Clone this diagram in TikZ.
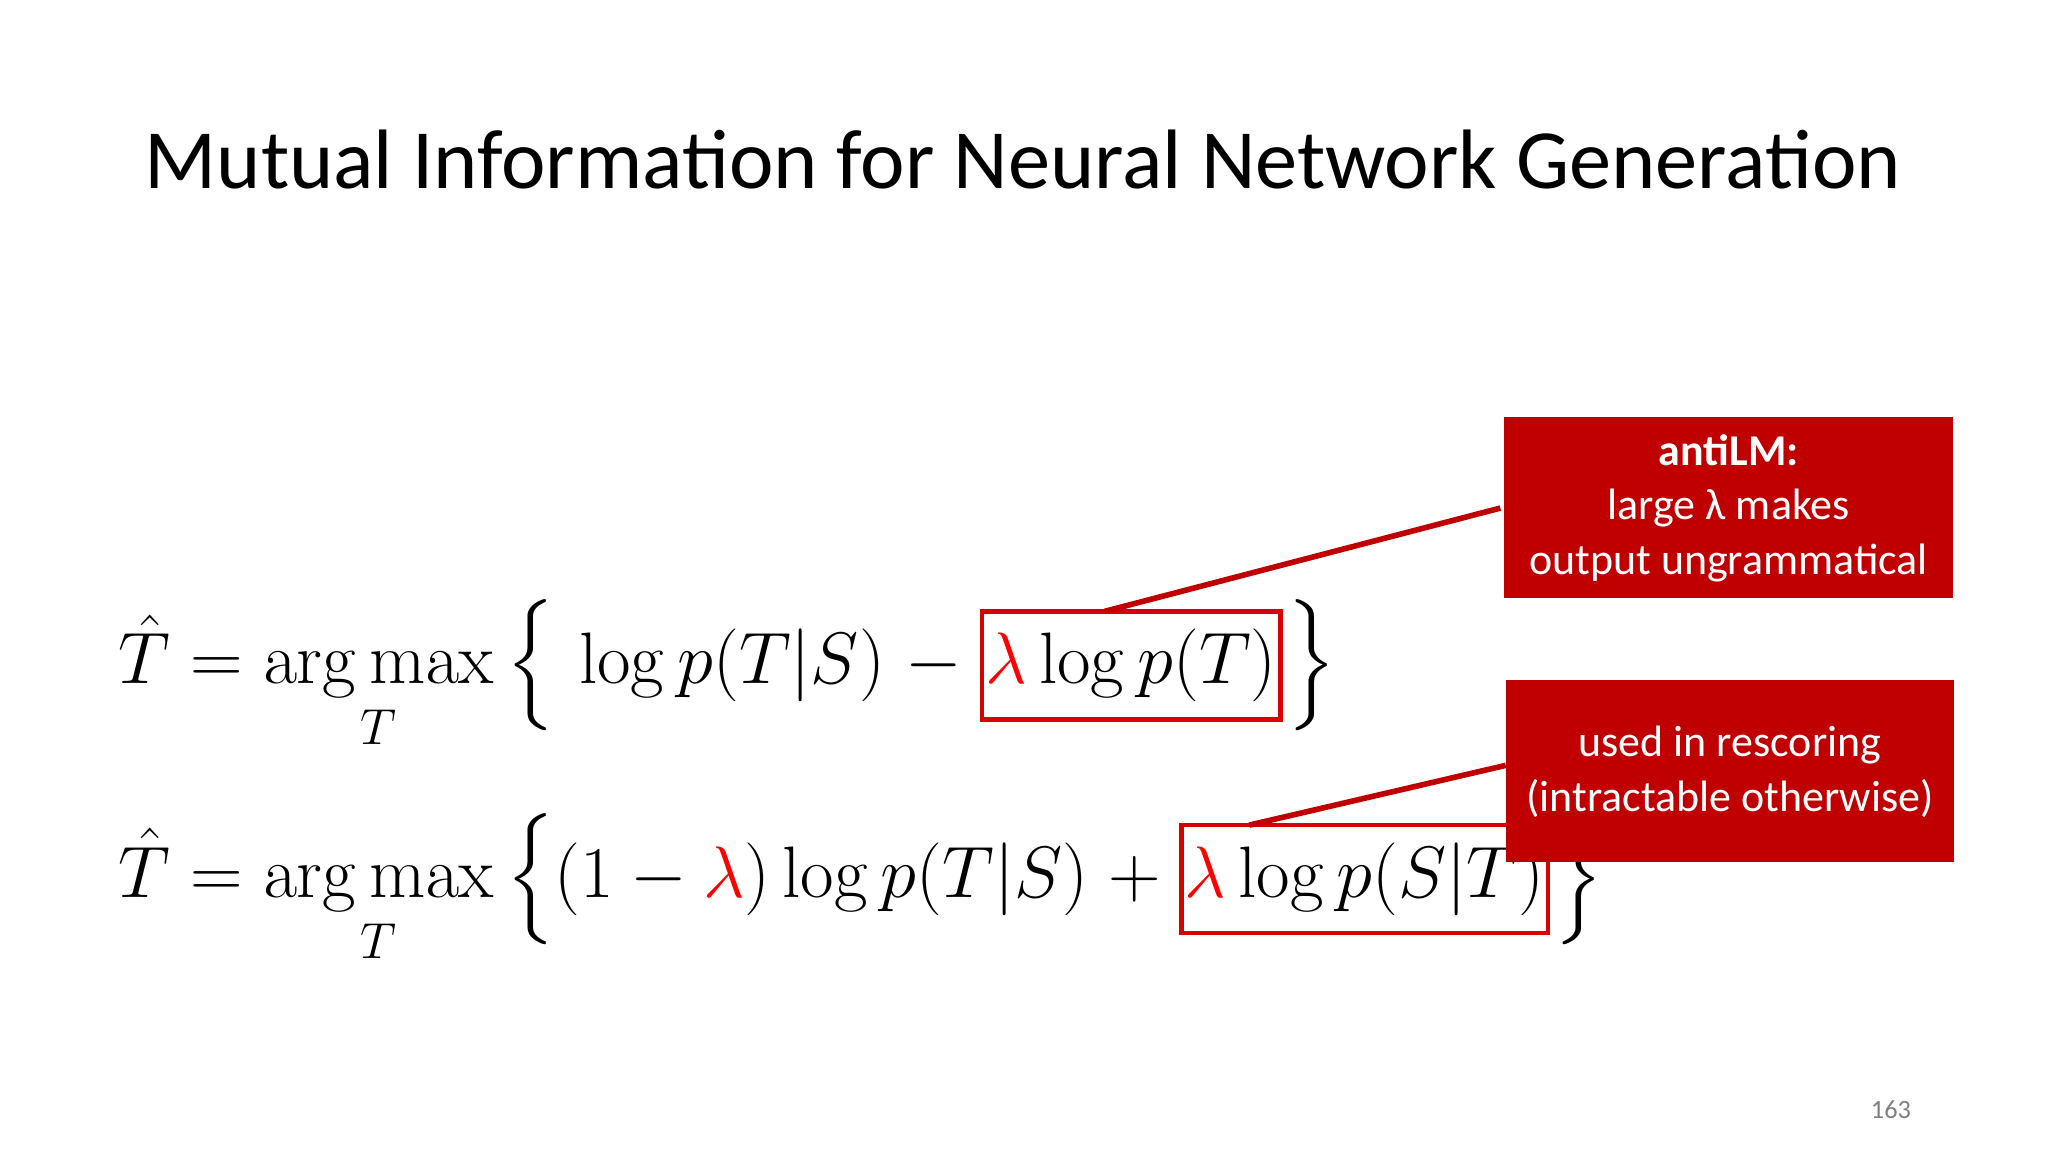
\documentclass[tikz,border=0pt]{standalone}
\usepackage{amsmath}
\usepackage[no-math]{fontspec}
\setmainfont{Carlito}
\definecolor{dred}{HTML}{C00000}
\begin{document}
\begin{tikzpicture}[x={(0.013196cm,0)},y={(0,-0.013196cm)},
  eq/.style={inner sep=0pt,outer sep=0pt,font=\fontsize{21.5}{26}\selectfont},
  rbox/.style={draw=red!85!black,line width=1.3pt,inner xsep=1pt,inner ysep=5pt,outer sep=0pt,font=\fontsize{21.5}{26}\selectfont},
  callout/.style={text=white,align=center,font=\fontsize{12.5}{15.5}\selectfont,inner sep=0pt},
  lead/.style={draw=dred,line width=1.6pt}]
\useasboundingbox (0,0) rectangle (1552,873);
\node[anchor=base,font=\fontsize{24}{28}\selectfont] (title) at (775,143) {Mutual Information for Neural Network Generation};
% equation 1
\node[eq,anchor=base west] (e1a) at (90,518) {$\displaystyle\hat T=\mathop{\arg\max}_{T}\Big\{\,\log p(T|S)\;-\;$};
\node[rbox,anchor=base west] (e1b) at (e1a.base east) {$\displaystyle{\color{red}\lambda}\log p(T)$};
\node[eq,anchor=base west] (e1c) at ([xshift=2pt]e1b.base east) {$\displaystyle\Big\}$};
% equation 2
\node[eq,anchor=base west] (e2a) at (90,680) {$\displaystyle\hat T=\mathop{\arg\max}_{T}\Big\{(1-{\color{red}\lambda})\log p(T|S)\;+\;$};
\node[rbox,anchor=base west] (e2b) at (e2a.base east) {$\displaystyle{\color{red}\lambda}\log p(S|T)$};
\node[eq,anchor=base west] (e2c) at ([xshift=2pt]e2b.base east) {$\displaystyle\Big\}$};
% callouts
\fill[dred] (1140,316) rectangle (1480,453);
\node[callout] (cat) at (1310,385) {\textbf{antiLM:}\\large λ makes\\output ungrammatical};
\fill[dred] (1141,515) rectangle (1481,653);
\node[callout] (cbt) at (1311,585) {used in rescoring\\(intractable otherwise)};
\coordinate (l1b) at (1137,385);
\coordinate (l2b) at (1141,580);
\draw[lead] ([xshift=-50]e1b.north east) -- (l1b);
\draw[lead] ([xshift=-85]e2b.north east) -- (l2b);
\node[text=gray,font=\fontsize{7.5}{9}\selectfont] (pg) at (1433,841) {163};
\end{tikzpicture}
\end{document}
